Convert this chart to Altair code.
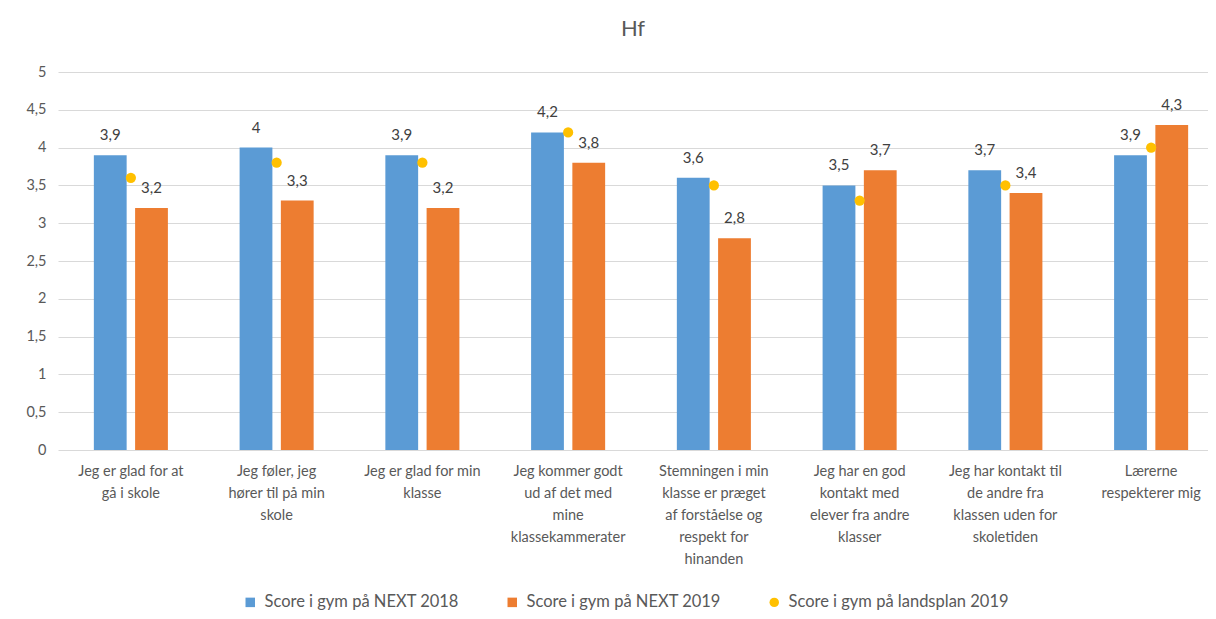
import altair as alt
import pandas as pd

categories = [
    "Jeg er glad for at\ngå i skole",
    "Jeg føler, jeg\nhører til på min\nskole",
    "Jeg er glad for min\nklasse",
    "Jeg kommer godt\nud af det med\nmine\nklassekammerater",
    "Stemningen i min\nklasse er præget\naf forståelse og\nrespekt for\nhinanden",
    "Jeg har en god\nkontakt med\nelever fra andre\nklasser",
    "Jeg har kontakt til\nde andre fra\nklassen uden for\nskoletiden",
    "Lærerne\nrespekterer mig",
]
next2018 = [3.9, 4.0, 3.9, 4.2, 3.6, 3.5, 3.7, 3.9]
next2019 = [3.2, 3.3, 3.2, 3.8, 2.8, 3.7, 3.4, 4.3]
landsplan2019 = [3.6, 3.8, 3.8, 4.2, 3.5, 3.3, 3.5, 4.0]

s18 = "Score i gym på NEXT 2018"
s19 = "Score i gym på NEXT 2019"
sland = "Score i  gym på landsplan 2019"
series_names = [s18, s19, sland]
series_colors = ["#5B9BD5", "#ED7D31", "#FFC000"]

bar_rows = []
for c, v in zip(categories, next2018):
    bar_rows.append({"category": c, "series": s18, "value": v})
for c, v in zip(categories, next2019):
    bar_rows.append({"category": c, "series": s19, "value": v})
bars_df = pd.DataFrame(bar_rows)
dots_df = pd.DataFrame({"category": categories, "series": sland, "value": landsplan2019})

FONT = "Lato"
GRAY = "#595959"

x_enc = alt.X(
    "category:N",
    sort=categories,
    scale=alt.Scale(range=[0, 1166], paddingInner=0.492, paddingOuter=0.246),
    axis=alt.Axis(
        title=None,
        labelAngle=0,
        labelExpr="split(datum.label, '\\n')",
        labelFontSize=14.5,
        labelLineHeight=22,
        labelColor=GRAY,
        labelFont=FONT,
        labelPadding=14,
        labelLimit=300,
        ticks=False,
        domain=False,
        labelBaseline="top",
    ),
)
xoff_enc = alt.XOffset(
    "series:N", sort=[s18, s19], scale=alt.Scale(paddingInner=0.205, paddingOuter=0)
)
y_enc = alt.Y(
    "value:Q",
    scale=alt.Scale(domain=[0, 5]),
    axis=alt.Axis(
        title=None,
        values=[0, 0.5, 1, 1.5, 2, 2.5, 3, 3.5, 4, 4.5, 5],
        labelExpr="replace(toString(datum.value), '.', ',')",
        labelFontSize=14.5,
        labelColor=GRAY,
        labelFont=FONT,
        labelPadding=12,
        ticks=False,
        domain=False,
        gridColor="#D9D9D9",
        gridWidth=1,
    ),
)

bars = alt.Chart(bars_df).mark_bar().encode(
    x=x_enc,
    xOffset=xoff_enc,
    y=y_enc,
    color=alt.Color(
        "series:N",
        scale=alt.Scale(domain=series_names, range=series_colors),
        legend=None,
    ),
)

labels = (
    alt.Chart(bars_df)
    .transform_calculate(lbl="replace(toString(datum.value), '.', ',')")
    .mark_text(baseline="bottom", dy=-12, fontSize=15, color="#404040", font=FONT)
    .encode(x=x_enc, xOffset=xoff_enc, y=y_enc, text="lbl:N")
)

legend_cfg = dict(
    title=None,
    orient="none",
    direction="horizontal",
    legendX=184,
    legendY=522,
    labelFontSize=16.5,
    labelColor=GRAY,
    labelFont=FONT,
    labelLimit=400,
    symbolSize=90,
    columnPadding=45,
    labelOffset=6,
)

dots = alt.Chart(dots_df).mark_point(filled=True, opacity=1, size=105).encode(
    x=x_enc,
    y=y_enc,
    color=alt.Color(
        "series:N",
        scale=alt.Scale(domain=series_names, range=series_colors),
        legend=alt.Legend(**legend_cfg),
    ),
    shape=alt.Shape(
        "series:N",
        scale=alt.Scale(domain=series_names, range=["square", "square", "circle"]),
        legend=alt.Legend(**legend_cfg),
    ),
)

chart = (
    alt.layer(bars, labels, dots)
    .resolve_scale(color="independent", shape="independent")
    .properties(
        width=1150,
        height=378,
        title=alt.TitleParams(
            "Hf", fontSize=22, color=GRAY, fontWeight="normal", font=FONT, offset=23
        ),
        padding={"left": 50, "top": 64, "right": 0, "bottom": 161},
        autosize=alt.AutoSizeParams(type="none"),
    )
    .configure_view(stroke=None)
)

chart.save("out.html", embed_options={"renderer": "svg", "actions": False})
